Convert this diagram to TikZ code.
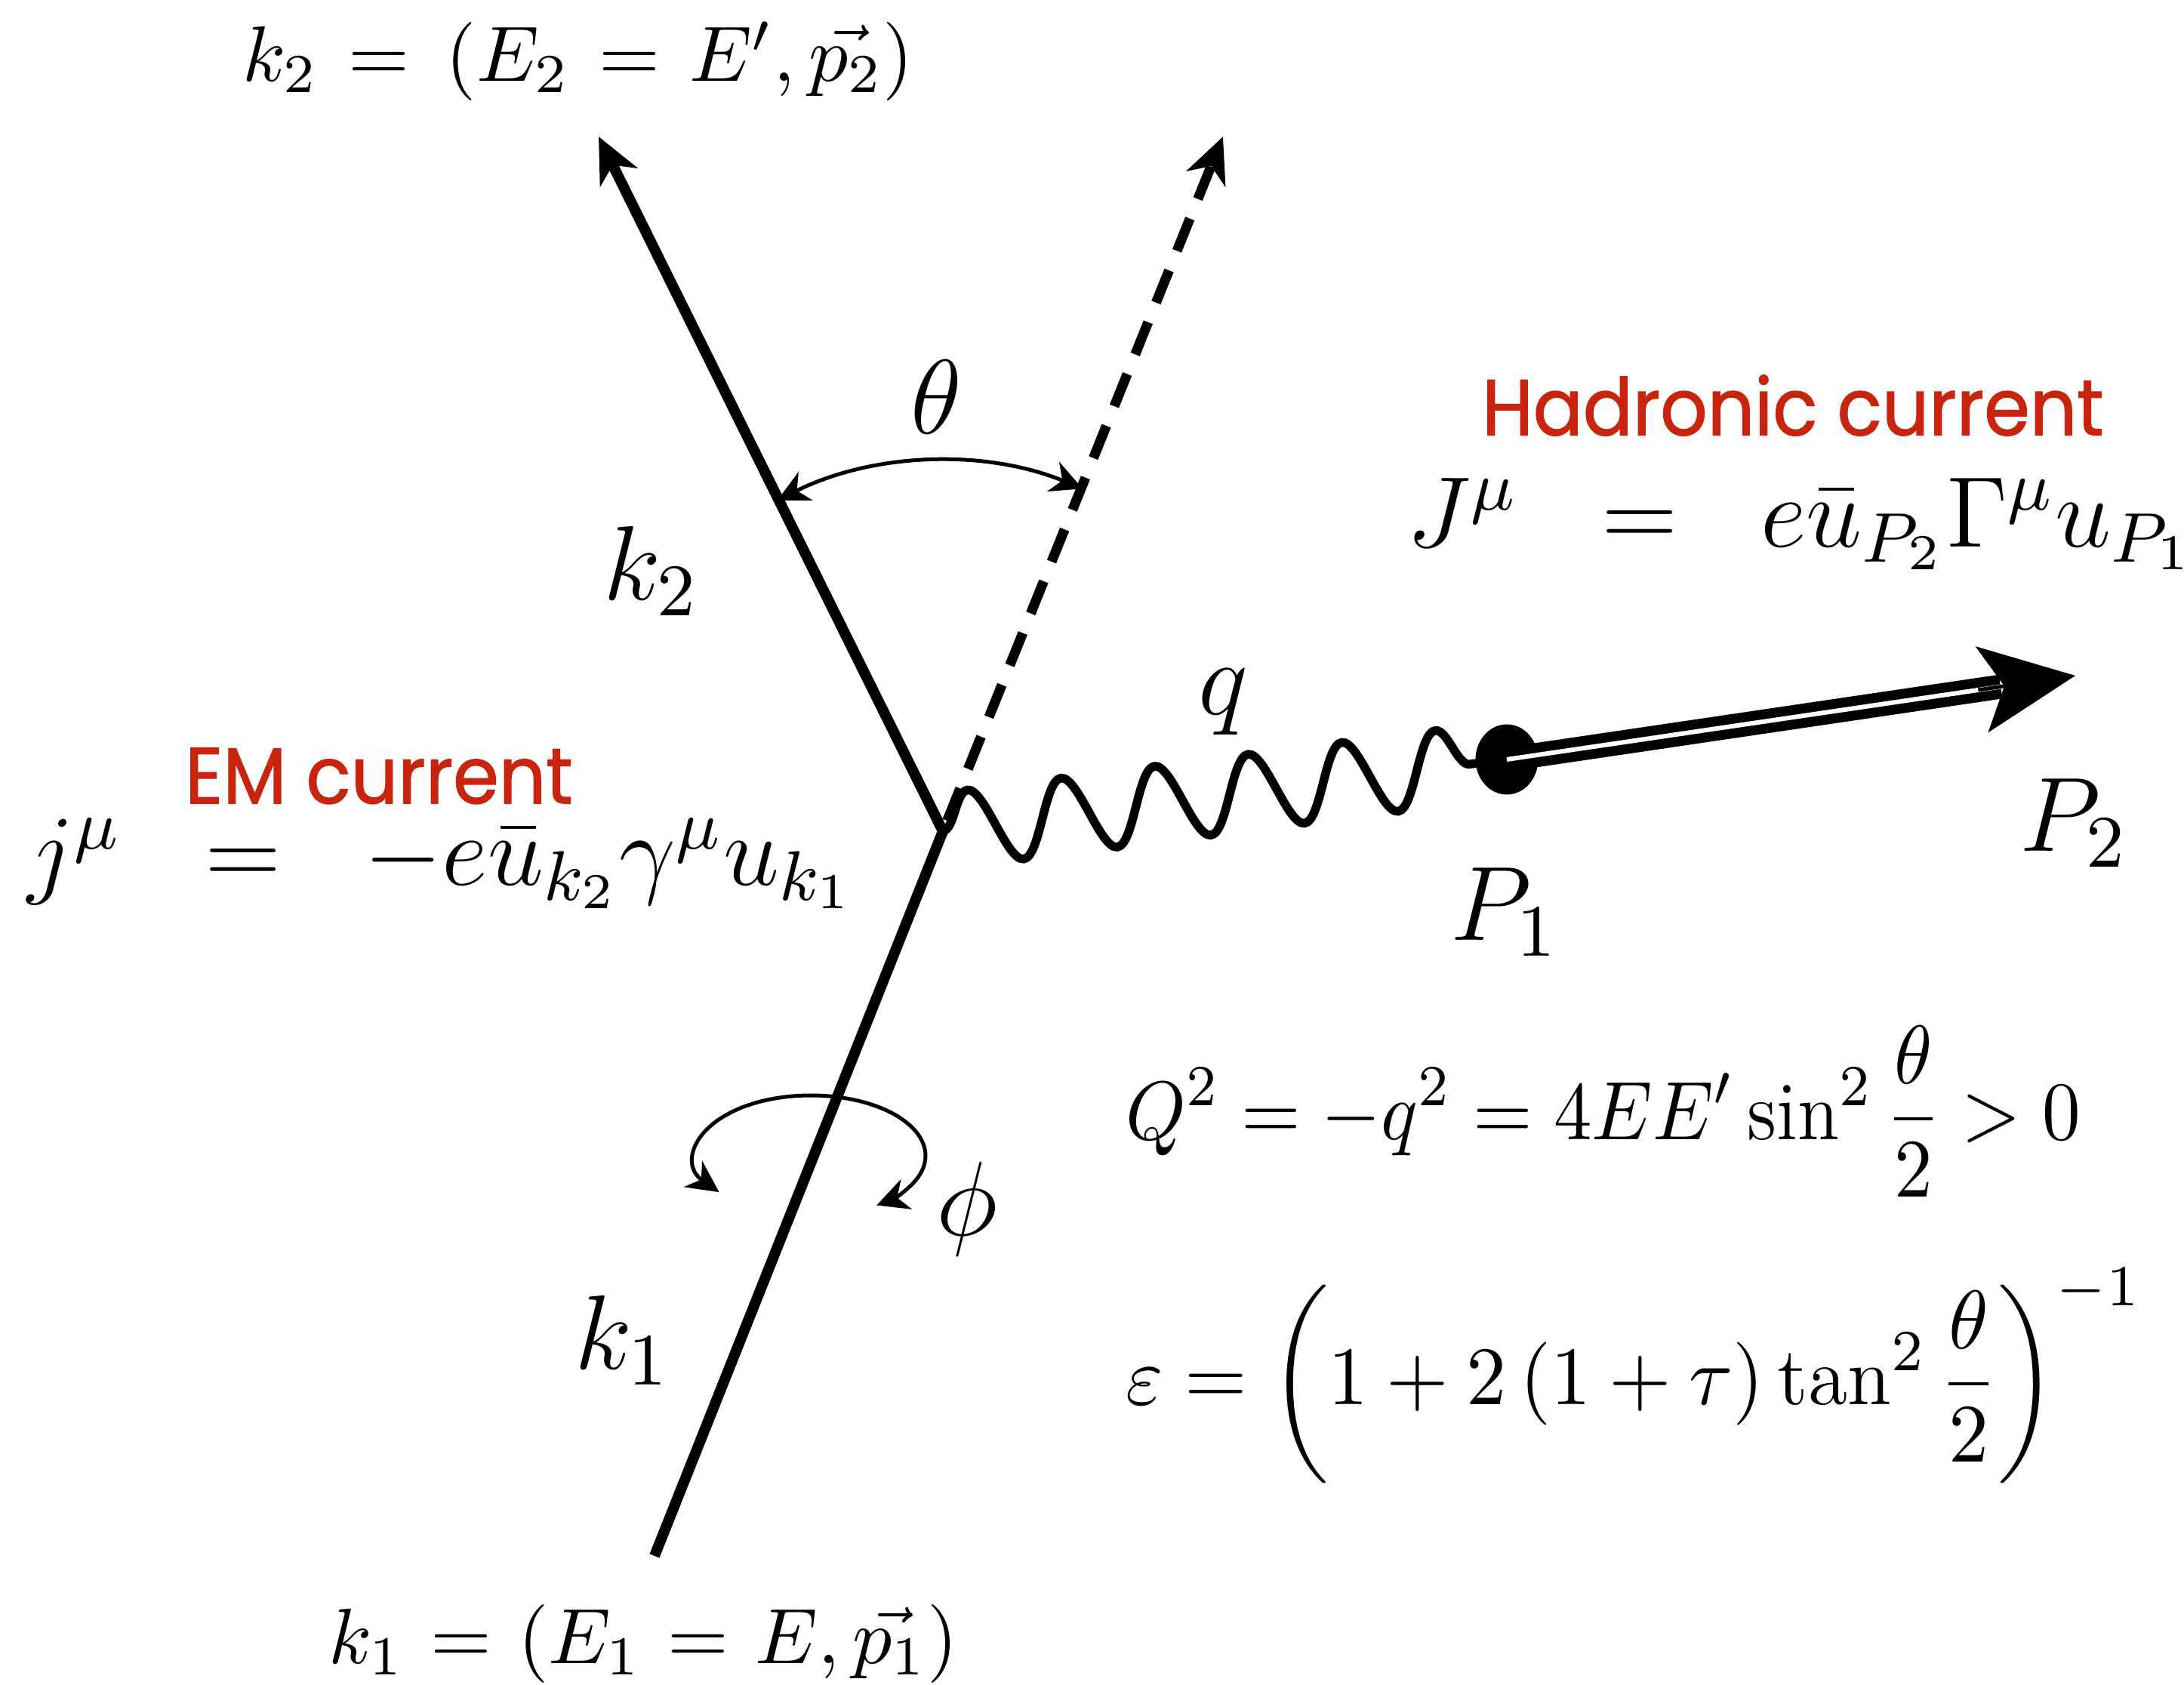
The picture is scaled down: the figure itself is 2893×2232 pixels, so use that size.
\RequirePackage{fix-cm}
\documentclass[tikz,border=0pt]{standalone}
\usepackage{amsmath}
\usepackage{graphicx}
\usepackage{fontspec}
\newfontfamily\redfont{Poppins}[FakeStretch=0.93, FakeBold=1.2]
\usetikzlibrary{arrows.meta,decorations.pathmorphing,calc,shapes.geometric}
\definecolor{emred}{RGB}{200,36,14}
\tikzset{
  lbl/.style={inner sep=0pt, outer sep=0pt},
  biglbl/.style={lbl, font=\fontsize{14}{16}\selectfont},
  eqn/.style={lbl, font=\fontsize{13.3}{15}\selectfont},
  smalleq/.style={lbl, font=\fontsize{10.4}{12}\selectfont},
  formula/.style={lbl, font=\fontsize{11}{13}\selectfont},
  redlbl/.style={lbl, text=emred, font=\redfont\fontsize{10.5}{12}\selectfont},
  fermion/.style={line width=1.4pt, line join=miter},
  tipsmall/.style={-{Stealth[length=6pt,width=5.5pt,inset=1.8pt]}},
  thinarc/.style={line width=0.5pt},
  thintips/.style={{Stealth[length=4.2pt,width=4.2pt,inset=1.3pt]}-{Stealth[length=4.2pt,width=4.2pt,inset=1.3pt]}},
  blobstyle/.style={ellipse, fill=black, minimum width=8.3pt, minimum height=9.3pt, inner sep=0pt},
}
\begin{document}
\begin{tikzpicture}[x=0.1pt,y=-0.1pt]
\useasboundingbox (0,0) rectangle (2893,2232);
% key points
\coordinate (V) at (1249,1101);
\coordinate (K1) at (867,2061);
\coordinate (K2) at (793,181);
\coordinate (D) at (1620,181);
\coordinate (P2tip) at (2749,895);
\coordinate (PhiC) at (1074,1531);

% phi rotation arrow (behind k1 line)
\draw[thinarc, thintips]
  ($(PhiC)+(-217:152 and 80)$) arc[start angle=-217, end angle=55, x radius=152, y radius=80];

% electron lines
\draw[fermion, tipsmall] (K1) -- (V) -- (K2);
% dashed extension of incoming
\draw[line width=1.3pt, dash pattern=on 4.6pt off 2.8pt, tipsmall, shorten <=1.5pt] (V) -- (D);

% theta arc
\draw[thinarc, thintips]
  ($(V)+(-116.6:490)$) arc[start angle=-116.6, end angle=-67.8, radius=490];

% hadron vertex
\node[blobstyle] (B) at (1996,1006) {};
% photon
\draw[line width=1.15pt, decorate, decoration={snake, segment length=12.5pt, amplitude=5pt}] (V) -- (B.center);
% outgoing hadron
\draw[double, double distance=0.6pt, line width=1.3pt, shorten >=10pt] (B.center) -- (P2tip);
\draw[line width=0.5pt, -{Stealth[length=12.5pt,width=11.5pt,inset=3pt]}] ($(P2tip)!13pt!(B.center)$) -- (P2tip);

% labels
\node[smalleq] (k2eq) at (766,81) {$k_2\hspace{1pt}=\hspace{2pt}(E_2\hspace{1pt}=\hspace{1pt}E',\vec{p_2})$};
\node[smalleq] (k1eq) at (852,2177) {$k_1\hspace{0.6pt}=\hspace{0.6pt}(E_1\hspace{0.6pt}=\hspace{0.6pt}E,\vec{p_1})$};
\node[biglbl] (theta) at (1240,526) {$\theta$};
\node[biglbl] (k2l) at (863,756) {$k_2$};
\node[biglbl] (k1l) at (825,1775) {$k_1$};
\node[biglbl] (ql) at (1620,930) {$q$};
\node[biglbl] (P1l) at (1993,1208) {$P_1$};
\node[biglbl] (P2l) at (2747,1090) {$P_2$};
\node[biglbl] (phil) at (1281,1601) {$\phi$};
\node[redlbl] (emcur) at (502,1028) {EM current};
\node[redlbl] (hadcur) at (2375,537) {Hadronic current};
\node[eqn, anchor=west] (jeq) at (37,1144) {$j^{\mu}\hspace{0.55em}=\hspace{0.55em}-e\bar{u}_{k_2}\gamma^{\mu}u_{k_1}$};
\node[eqn, anchor=west] (Jeq) at (1864,694) {$J^{\mu}\hspace{0.55em}=\hspace{0.55em}e\bar{u}_{P_2}\Gamma^{\mu}u_{P_1}$};
\node[formula, anchor=west] (Qeq) at (1491,1472) {\scalebox{0.92}[1]{$\displaystyle Q^2=-q^2=4EE'\sin^2\frac{\theta}{2}>0$}};
\node[formula, anchor=west] (epseq) at (1491,1822) {\scalebox{0.965}[1]{$\displaystyle \varepsilon=\left(1+2\,(1+\tau)\tan^2\frac{\theta}{2}\right)^{-1}$}};
\end{tikzpicture}
\end{document}
